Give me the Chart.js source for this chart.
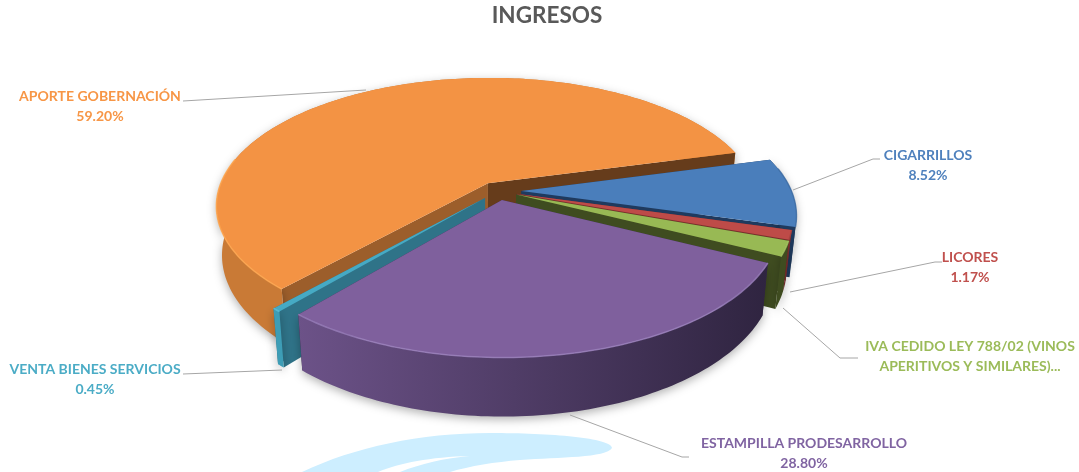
<!DOCTYPE html>
<html>
<head>
<meta charset="utf-8">
<script src="https://cdn.jsdelivr.net/npm/chart.js@4"></script>
<style>
    html, body { margin: 0; padding: 0; background: #fff; }
    #wrap { width: 1079px; height: 472px; }
</style>
</head>
<body>
<div id="wrap"><canvas id="chart"></canvas></div>
<script>
const categories = ['CIGARRILLOS', 'LICORES', 'IVA CEDIDO LEY 788/02 (VINOS APERITIVOS Y SIMILARES)...', 'ESTAMPILLA PRODESARROLLO', 'VENTA BIENES SERVICIOS', 'APORTE GOBERNACIÓN'];
const values = [8.52, 1.17, 1.86, 28.80, 0.45, 59.20];

const topColors = ['#4a7ebb', '#be4b48', '#98b954', '#7f609d', '#46aac4', '#f39344'];
const textColors = ['#4f81bd', '#c0504d', '#9bbb59', '#8064a2', '#4bacc6', '#f79646'];
const rimColors = ['#3f6ea6', '#a84240', '#a8c765', '#9a80bb', '#5cc0da', '#ffa850'];
const wallLeft = ['#1f3a5e', '#7a2f2d', '#3f4c20', '#6c5288', '#3d9db6', '#c97a36'];
const wallRight = ['#1f3a5e', '#7a2f2d', '#3f4c20', '#2f2440', '#3d9db6', '#d58239'];
const startEdgeColors = ['#1f3a5e', '#7a2f2d', '#3f4c20', '#3a2d50', '#2f7388', '#9c5e2b'];
const endEdgeColors = ['#1f3a5e', '#7a2f2d', '#3f4c20', '#3a2d50', '#2f7388', '#663c1b'];
const explode = [18, 15, 15, 15, 15, 15];

// back to front
const paintOrder = [5, 0, 1, 2, 4, 3];

// where the labels sit: [centre x, first line y], then the leader line
const labelAt = [[928, 155], [970, 257], [970, 346], [804, 443], [95, 369], [100, 96]];
const labelLines = [
    [[793, 190], [873, 159], [880, 159]],
    [[790, 292], [935, 262], [942, 262]],
    [[783, 308], [840, 358], [858, 358]],
    [[570, 415], [682, 457], [689, 457]],
    [[183, 374], [282, 370]],
    [[183, 101], [366, 90]]
];

// perspective of the pie plane
const view = { cx: 498, cy: 191, s: 270, k: 0.468, p: 0.175, depth: 48, shrink: 0.98 };

function project(u, v) {
    let w = 1 - view.p * v;
    return { x: view.cx + view.s * u / w, y: view.cy + view.s * view.k * v / w, w: w };
}

function lower(pt) {
    return { x: view.cx + (pt.x - view.cx) * view.shrink, y: pt.y + view.depth / pt.w };
}

// projected outline of one arc element: apex + outer rim
function outline(arc) {
    let props = arc.getProps(['startAngle', 'endAngle', 'outerRadius']);
    let mid = (props.startAngle + props.endAngle) / 2;
    let d = arc.options.offset / props.outerRadius;
    let ox = d * Math.cos(mid);
    let oy = d * Math.sin(mid);
    let rim = [];
    let front = [];
    let steps = Math.max(4, Math.ceil((props.endAngle - props.startAngle) / 0.02));
    for (let i = 0; i <= steps; i++) {
        let a = props.startAngle + (props.endAngle - props.startAngle) * i / steps;
        let p = project(ox + Math.cos(a), oy + Math.sin(a));
        rim.push(p);
        if (Math.sin(a) > -0.2) {
            front.push(p);
        }
    }
    return { apex: project(ox, oy), rim: rim, front: front, startsBack: Math.sin(props.startAngle) < 0, endsBack: Math.sin(props.endAngle) < 0 };
}

function fillPoly(ctx, pts) {
    ctx.beginPath();
    pts.forEach((p, i) => i ? ctx.lineTo(p.x, p.y) : ctx.moveTo(p.x, p.y));
    ctx.closePath();
    ctx.fill();
}

const pie3d = {
    id: 'pie3d',
    beforeDatasetDraw: (chart, args) => {
        const ctx = chart.ctx;
        const arcs = args.meta.data;

        ctx.save();
        // pale swoosh under the pie
        ctx.fillStyle = '#cdeeff';
        ctx.beginPath();
        ctx.moveTo(302, 472);
        ctx.bezierCurveTo(355, 447, 420, 433, 490, 433);
        ctx.bezierCurveTo(550, 433, 612, 438, 612, 448);
        ctx.bezierCurveTo(606, 458, 560, 457, 520, 460);
        ctx.bezierCurveTo(495, 462, 470, 466, 450, 472);
        ctx.lineTo(400, 472);
        ctx.bezierCurveTo(420, 464, 445, 458, 470, 456);
        ctx.bezierCurveTo(430, 457, 400, 463, 378, 472);
        ctx.closePath();
        ctx.fill();

        // walls
        paintOrder.forEach(i => {
            let o = outline(arcs[i]);
            let first = o.rim[0];
            let last = o.rim[o.rim.length - 1];

            let startWall = () => {
                ctx.fillStyle = startEdgeColors[i];
                fillPoly(ctx, [o.apex, first, lower(first), lower(o.apex)]);
            };
            let endWall = () => {
                ctx.fillStyle = endEdgeColors[i];
                fillPoly(ctx, [o.apex, last, lower(last), lower(o.apex)]);
            };

            // an edge ending in the front half sits behind the rim wall, one in the back half in front of it
            if (!o.startsBack) startWall();
            if (!o.endsBack) endWall();

            let grad = ctx.createLinearGradient(Math.min(first.x, last.x), 0, Math.max(first.x, last.x), 0);
            grad.addColorStop(0, wallLeft[i]);
            grad.addColorStop(1, wallRight[i]);
            ctx.save();
            ctx.shadowColor = 'rgba(0, 0, 0, 0.3)';
            ctx.shadowBlur = 10;
            ctx.shadowOffsetY = 3;
            ctx.fillStyle = grad;
            fillPoly(ctx, o.rim.concat(o.rim.map(lower).reverse()));
            ctx.restore();

            if (o.startsBack) startWall();
            if (o.endsBack) endWall();
        });

        // top faces, taken from the same arc elements
        paintOrder.forEach(i => {
            let o = outline(arcs[i]);
            ctx.fillStyle = arcs[i].options.backgroundColor;
            fillPoly(ctx, [o.apex].concat(o.rim));

            // light bevel along the front of the rim
            ctx.strokeStyle = rimColors[i];
            ctx.globalAlpha = 0.8;
            ctx.lineWidth = 1.5;
            ctx.beginPath();
            o.front.forEach((p, j) => j ? ctx.lineTo(p.x, p.y) : ctx.moveTo(p.x, p.y));
            ctx.stroke();
            ctx.globalAlpha = 1;
        });
        ctx.restore();
        return false;
    },
    afterDraw: (chart) => {
        const ctx = chart.ctx;
        ctx.save();
        ctx.strokeStyle = '#a6a6a6';
        ctx.lineWidth = 1;
        ctx.font = 'bold 14px Lato';
        ctx.textAlign = 'center';
        ctx.textBaseline = 'middle';
        categories.forEach((name, i) => {
            ctx.beginPath();
            labelLines[i].forEach((p, j) => j ? ctx.lineTo(p[0], p[1]) : ctx.moveTo(p[0], p[1]));
            ctx.stroke();

            let lines = [name, values[i].toFixed(2) + '%'];
            if (name.startsWith('IVA')) {
                lines = ['IVA CEDIDO LEY 788/02 (VINOS', 'APERITIVOS Y SIMILARES)...'];
            }
            ctx.fillStyle = textColors[i];
            ctx.fillText(lines[0], labelAt[i][0], labelAt[i][1]);
            ctx.fillText(lines[1], labelAt[i][0], labelAt[i][1] + 20);
        });
        ctx.restore();
    }
};

new Chart(document.getElementById('chart'), {
    type: 'pie',
    data: {
        labels: categories,
        datasets: [{
            data: values,
            backgroundColor: topColors,
            offset: explode,
            borderWidth: 0
        }]
    },
    options: {
        responsive: true,
        maintainAspectRatio: false,
        animation: false,
        rotation: 75,
        layout: { padding: { left: 15 } },
        plugins: {
            legend: { display: false },
            tooltip: { enabled: false },
            title: {
                display: true,
                text: 'INGRESOS',
                color: '#595959',
                font: { family: 'Lato', size: 22.5, weight: 'bold' },
                padding: { top: 2, bottom: 10 }
            }
        }
    },
    plugins: [pie3d]
});
</script>
</body>
</html>
